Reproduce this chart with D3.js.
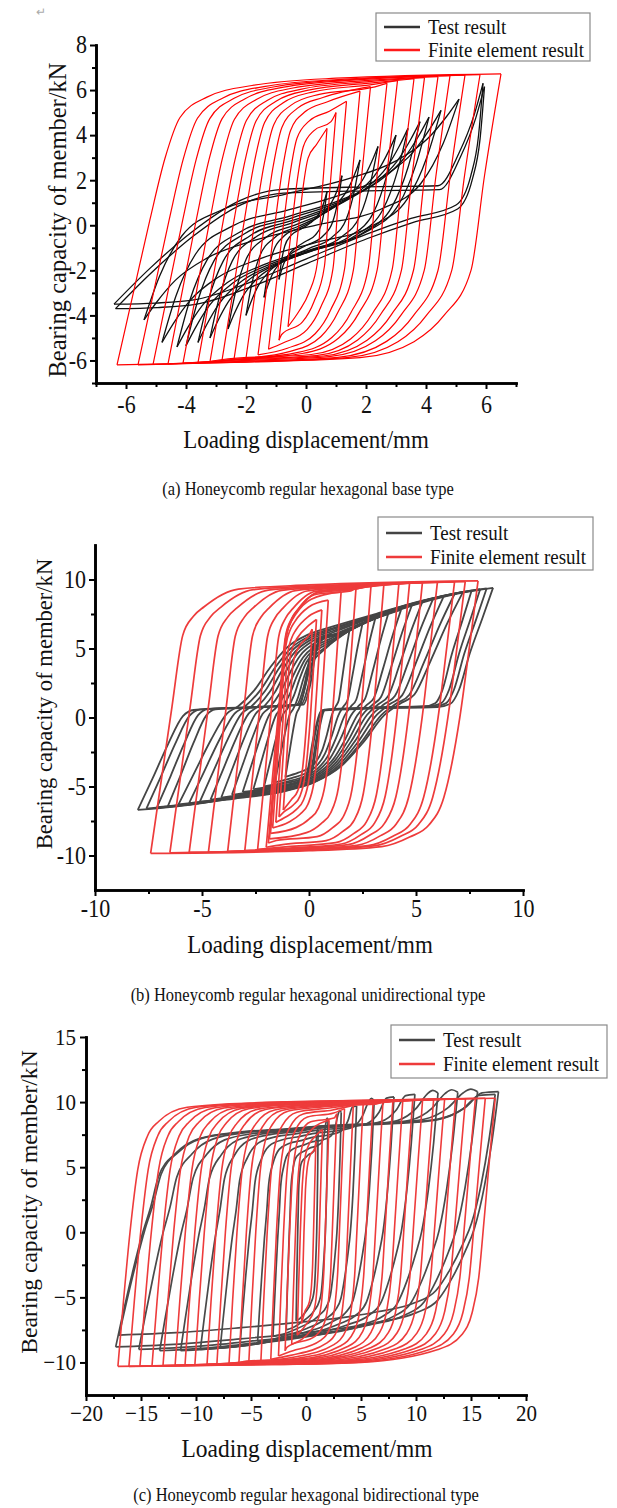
<!DOCTYPE html>
<html>
<head>
<meta charset="utf-8">
<script src="https://cdn.jsdelivr.net/npm/d3@7"></script>
<style>
  body { margin: 0; background: #fff; }
  svg, svg text { font-family: "Liberation Serif", "Times New Roman", Times, serif; }
  svg text { fill: #111; }
  .tall { transform-box: fill-box; transform-origin: center; transform: scaleY(1.1); }
</style>
</head>
<body>
<svg id="fig" width="617" height="1508"></svg>
<script>
const FONT = '"Liberation Serif", "Times New Roman", Times, serif';

// ---------------- shared text ----------------
const xTitle = "Loading displacement/mm";
const yTitle = "Bearing capacity of member/kN";
const legendLabels = ["Test result", "Finite element result"];
const captions = [
  "(a) Honeycomb regular hexagonal base type",
  "(b) Honeycomb regular hexagonal unidirectional type",
  "(c) Honeycomb regular hexagonal bidirectional type"
];

// Loops are stored as [negative peak displacement, negative peak force,
//                      positive peak displacement, positive peak force].
// Branch shapes list points as [distance from the starting peak, share of the loop height].

// ---------------- (a) base type ----------------
const xTicksA = [-6, -4, -2, 0, 2, 4, 6];
const xMinorA = [-7, -5, -3, -1, 1, 3, 5, 7];
const yTicksA = [-6, -4, -2, 0, 2, 4, 6, 8];
const yMinorA = [-7, -5, -3, -1, 1, 3, 5, 7];

const feLoopsA = [
  [-6.3, -6.2, 6.5, 6.72], [-5.6, -6.2, 5.8, 6.68], [-5.1, -6.18, 5.3, 6.66],
  [-4.6, -6.15, 4.8, 6.64], [-4.1, -6.12, 4.4, 6.6], [-3.6, -6.1, 3.95, 6.55],
  [-3.2, -6.05, 3.6, 6.5], [-2.8, -6.0, 3.05, 6.42], [-2.4, -5.95, 2.7, 6.3],
  [-2.0, -5.9, 2.15, 6.15], [-1.6, -5.75, 1.8, 5.95], [-1.25, -5.5, 1.35, 5.5],
  [-0.9, -5.1, 1.0, 5.0], [-0.6, -4.5, 0.7, 4.3]
];
const feRiseA = [[0.55, 0.25], [1.1, 0.5], [1.6, 0.71], [2.1, 0.85], [3.0, 0.92], [4.5, 0.96], [7.3, 0.985]];
const feFallA = [[0.55, 0.35], [1.0, 0.675], [1.9, 0.83], [2.9, 0.92], [4.7, 0.975], [8.5, 0.99]];

const testOuterA = [[-6.4, -3.5, 5.9, 6.3], [-6.35, -3.7, 5.95, 6.15]];
const testOuterRiseA = [[.098, .163], [.211, .327], [.341, .469], [.455, .520], [.683, .531], [.878, .536], [.935, .684], [.976, .857]];
const testOuterFallA = [[.012, .235], [.033, .418], [.073, .551], [.195, .612], [.317, .684], [.48, .796], [.642, .908], [.78, .98], [.886, .995]];
const testInnerA = [
  [-5.4, -4.2, 5.1, 5.6], [-4.8, -5.2, 4.5, 5.1], [-4.3, -5.4, 4.1, 4.8], [-4.0, -5.35, 3.8, 4.6],
  [-3.6, -5.2, 3.4, 4.3], [-3.2, -5.0, 3.0, 4.0], [-2.6, -4.6, 2.4, 3.5], [-2.0, -4.0, 1.8, 2.9],
  [-1.4, -3.2, 1.2, 2.2], [-0.9, -2.4, 0.7, 1.5]
];
const testInnerShapeA = [[.05, .2], [.12, .38], [.25, .5], [.45, .57], [.65, .64], [.8, .72], [.9, .82], [.96, .92]];

// ---------------- (b) unidirectional type ----------------
const xTicksB = [-10, -5, 0, 5, 10];
const xMinorB = [-7.5, -2.5, 2.5, 7.5];
const yTicksB = [-10, -5, 0, 5, 10];
const yMinorB = [-7.5, -2.5, 2.5, 7.5];

const feLoopsB = [
  [-7.4, -9.85, 7.9, 9.9], [-6.5, -9.8, 7.3, 9.85], [-5.6, -9.78, 6.8, 9.82],
  [-4.7, -9.75, 6.0, 9.8], [-3.8, -9.7, 5.3, 9.78], [-3.0, -9.65, 4.7, 9.75],
  [-2.4, -9.55, 4.2, 9.72], [-2.0, -9.4, 3.5, 9.68], [-1.9, -9.1, 2.9, 9.6],
  [-1.85, -8.8, 2.2, 9.45], [-1.8, -8.4, 1.5, 9.1], [-1.7, -8.0, 0.9, 8.5],
  [-1.55, -7.6, 0.6, 7.8], [-1.4, -7.2, 0.35, 7.1], [-1.2, -6.7, 0.15, 6.4]
];
const feRiseB = [[0.5, 0.27], [1.0, 0.54], [1.5, 0.80], [2.0, 0.87], [2.5, 0.905], [4.1, 0.97], [7.4, 0.985]];
const feFallB = [[0.4, 0.24], [0.85, 0.50], [1.6, 0.795], [2.3, 0.896], [3.2, 0.94], [4.5, 0.975], [7.9, 0.99]];

const testOuterB = [[-8.0, -6.7, 8.6, 9.4], [-7.6, -6.6, 8.3, 9.35], [-7.1, -6.5, 8.0, 9.3], [-6.6, -6.45, 7.6, 9.2]];
const testOuterRiseB = [[.042, .143], [.084, .292], [.127, .422], [.157, .450], [.301, .460], [.446, .472], [.470, .571], [.488, .714], [.512, .776], [.566, .795], [.639, .845], [.735, .901], [.904, .975]];
const testOuterFallB = [[.030, .137], [.066, .298], [.096, .460], [.120, .522], [.157, .537], [.337, .543], [.482, .553], [.506, .677], [.524, .832], [.548, .876], [.669, .919], [.819, .969]];
const testInnerB = [
  [-6.1, -6.3, 7.2, 9.1], [-5.6, -6.2, 6.8, 8.95], [-5.1, -6.1, 6.3, 8.8], [-4.6, -5.95, 5.8, 8.6],
  [-4.1, -5.8, 5.3, 8.4], [-3.6, -5.6, 4.8, 8.1], [-3.1, -5.4, 4.3, 7.8], [-2.6, -5.2, 3.7, 7.5],
  [-2.1, -5.0, 3.1, 7.2], [-1.6, -4.7, 2.5, 6.8], [-1.1, -4.3, 1.9, 6.4]
];
const testInnerRiseB = [[.057, .152], [.114, .303], [.171, .428], [.210, .462], [.267, .538], [.324, .648], [.381, .738], [.457, .8], [.552, .841], [.695, .897], [.857, .959]];
const testInnerFallB = [[.057, .152], [.114, .324], [.171, .483], [.219, .524], [.276, .579], [.352, .710], [.429, .821], [.524, .897], [.629, .938], [.8, .972]];

// ---------------- (c) bidirectional type ----------------
const xTicksC = [-20, -15, -10, -5, 0, 5, 10, 15, 20];
const xMinorC = [-17.5, -12.5, -7.5, -2.5, 2.5, 7.5, 12.5, 17.5];
const yTicksC = [-10, -5, 0, 5, 10, 15];
const yMinorC = [-7.5, -2.5, 2.5, 7.5, 12.5];

const feLoopsC = [
  [-17.1, -10.3, 17.2, 10.3], [-16.1, -10.3, 16.3, 10.3], [-15.1, -10.28, 15.4, 10.28],
  [-14.0, -10.26, 14.5, 10.26], [-13.0, -10.24, 13.6, 10.24], [-11.9, -10.22, 12.6, 10.22],
  [-11.0, -10.2, 11.6, 10.2], [-10.1, -10.18, 10.6, 10.18], [-9.0, -10.15, 9.7, 10.15],
  [-8.1, -10.12, 8.8, 10.12], [-7.0, -10.08, 7.9, 10.08], [-6.1, -10.04, 7.0, 10.04],
  [-5.2, -10.0, 6.1, 10.0], [-4.1, -9.9, 5.2, 9.9], [-3.2, -9.75, 4.3, 9.75],
  [-2.5, -9.5, 3.5, 9.5], [-1.9, -9.1, 2.8, 9.1], [-1.3, -8.6, 2.1, 8.6],
  [-0.8, -7.9, 1.5, 7.9], [-0.4, -7.0, 0.9, 7.0]
];
const feRiseC = [[0.5, 0.24], [1.1, 0.5], [1.8, 0.733], [2.7, 0.86], [3.7, 0.913], [6.3, 0.966], [12, 0.982], [20, 0.99]];
const feFallC = [[0.5, 0.22], [1.0, 0.45], [1.5, 0.67], [2.1, 0.8], [3.0, 0.88], [5.2, 0.937], [12.2, 0.985], [20, 0.993]];

const testLoopsC = [
  [-17.3, -8.8, 17.5, 10.8], [-17.0, -7.9, 17.2, 10.6], [-15.2, -9.0, 15.6, 10.8],
  [-13.3, -9.1, 13.8, 10.75], [-11.4, -9.1, 12.0, 10.7], [-9.6, -9.0, 9.9, 10.6],
  [-7.8, -8.9, 8.0, 10.4], [-6.0, -8.7, 6.2, 10.1], [-4.4, -8.4, 4.6, 9.7],
  [-3.0, -8.0, 3.2, 9.2], [-1.8, -7.5, 2.0, 8.6], [-0.9, -6.8, 1.1, 7.9]
];
const testRiseC = [[.017, .117], [.043, .286], [.069, .439], [.092, .551], [.112, .668], [.158, .760], [.218, .816], [.325, .842], [.425, .852], [.555, .867], [.727, .878], [.842, .893], [.914, .939], [.957, .995], [.980, 1.010]];
const testFallC = [[.017, .194], [.037, .372], [.063, .536], [.086, .622], [.121, .730], [.158, .816], [.216, .867], [.313, .903], [.388, .923], [.503, .944], [.675, .969], [.848, .990]];

// ---------------- drawing ----------------
const svg = d3.select("#fig").style("font-family", FONT);

// Build the loading (left to right) and unloading branches of one loop.
// ref/pow control how the branch shape shrinks for narrower loops.
function branches(peak, rise, fall, ref, pow) {
  const [xn, yn, xp, yp] = peak;
  const w = xp - xn, h = yp - yn, s = Math.pow(w / ref, pow);
  const up = [[xn, yn]];
  rise.forEach(([d, f]) => { const xv = xn + d * s; if (xv < xp - 0.02 * w) up.push([xv, yn + f * h]); });
  up.push([xp, yp]);
  const dn = [[xp, yp]];
  fall.forEach(([d, f]) => { const xv = xp - d * s; if (xv > xn + 0.02 * w) dn.push([xv, yp - f * h]); });
  dn.push([xn, yn]);
  return [up, dn.reverse()];
}

function serif(sel) { return sel.style("font-family", FONT); }

function styleAxis(sel, fs) {
  sel.attr("font-family", null).attr("font-size", null);
  sel.select(".domain").attr("stroke", "#000").attr("stroke-width", 2.6).attr("stroke-linecap", "square");
  sel.selectAll(".tick line").attr("stroke", "#000").attr("stroke-width", 2);
  serif(sel.selectAll(".tick text").attr("font-size", fs).attr("fill", "#111").attr("class", "tall"));
}

function drawPanel(p) {
  const g = svg.append("g");
  const x = d3.scaleLinear().domain(p.xDomain).range([p.left, p.right]);
  const y = d3.scaleLinear().domain(p.yDomain).range([p.bottom, p.top]);
  const path = d3.line().x(d => x(d[0])).y(d => y(d[1])).curve(d3.curveMonotoneX);

  p.series.forEach(s => {
    const sg = g.append("g").attr("fill", "none").attr("stroke", s.color)
      .attr("stroke-width", s.width).attr("stroke-linejoin", "round");
    s.sets.forEach(set => set.loops.forEach(pk => {
      branches(pk, set.rise, set.fall, set.ref, set.pow)
        .forEach(b => sg.append("path").attr("d", path(b)));
    }));
  });

  const fmt = p.unicodeMinus ? d3.format("") : (d => String(d));

  const xm = g.append("g").attr("transform", `translate(0,${p.bottom})`)
    .call(d3.axisBottom(x).tickValues(p.xMinor).tickSize(4).tickSizeOuter(0).tickFormat(""));
  styleAxis(xm, p.tickFont);
  const xa = g.append("g").attr("transform", `translate(0,${p.bottom})`)
    .call(d3.axisBottom(x).tickValues(p.xTicks).tickSize(6).tickPadding(p.xPad).tickSizeOuter(0).tickFormat(fmt));
  styleAxis(xa, p.tickFont);

  const ym = g.append("g").attr("transform", `translate(${p.left},0)`)
    .call(d3.axisLeft(y).tickValues(p.yMinor).tickSize(4).tickSizeOuter(0).tickFormat(""));
  styleAxis(ym, p.tickFont);
  const ya = g.append("g").attr("transform", `translate(${p.left},0)`)
    .call(d3.axisLeft(y).tickValues(p.yTicks).tickSize(6).tickPadding(p.yPad).tickSizeOuter(0).tickFormat(fmt));
  styleAxis(ya, p.tickFont);

  serif(g.append("text").attr("class", "tall")
    .attr("x", p.xTitlePos[0]).attr("y", p.xTitlePos[1])
    .attr("text-anchor", "middle").attr("font-size", p.xTitleFont).text(xTitle));

  serif(g.append("g").attr("transform", `translate(${p.yTitlePos[0]},${p.yTitlePos[1]}) rotate(-90)`)
    .append("text").attr("text-anchor", "middle").attr("dy", "0.35em")
    .attr("font-size", p.yTitleFont).text(yTitle));

  serif(g.append("text").attr("class", "tall")
    .attr("x", p.captionPos[0]).attr("y", p.captionPos[1])
    .attr("text-anchor", "middle").attr("font-size", 16.5).text(p.caption));

  const L = p.legend;
  const lg = g.append("g");
  lg.append("rect").attr("x", L.x).attr("y", L.y).attr("width", L.w).attr("height", L.h)
    .attr("fill", "#fff").attr("stroke", "#8a8a8a").attr("stroke-width", 1.2);
  legendLabels.forEach((t, i) => {
    const yy = L.rows[i];
    lg.append("line").attr("x1", L.x + 8).attr("x2", L.x + 44).attr("y1", yy).attr("y2", yy)
      .attr("stroke", p.legendColors[i]).attr("stroke-width", 2.6);
    serif(lg.append("text").attr("class", "tall").attr("x", L.x + 52).attr("y", yy).attr("dy", "0.33em")
      .attr("font-size", 19).text(t));
  });
}

// small return mark above the first figure
svg.append("text").attr("x", 36).attr("y", 16).attr("font-size", 12).style("fill", "#aaa").text("\u21B5");

drawPanel({
  xDomain: [-7, 7], yDomain: [-7, 8], left: 96, right: 516, top: 45, bottom: 383,
  xTicks: xTicksA, xMinor: xMinorA, yTicks: yTicksA, yMinor: yMinorA,
  tickFont: 22, xPad: 8, yPad: 3, unicodeMinus: false,
  xTitlePos: [306, 447], xTitleFont: 23, yTitlePos: [57, 220], yTitleFont: 24.5,
  caption: captions[0], captionPos: [308, 494],
  legend: { x: 376, y: 13, w: 214, h: 48, rows: [27, 50] },
  legendColors: ["#333", "#ff1a1a"],
  series: [
    { color: "#111", width: 1.3, sets: [
      { loops: testOuterA, rise: testOuterRiseA, fall: testOuterFallA, ref: 1, pow: 1 },
      { loops: testInnerA, rise: testInnerShapeA, fall: testInnerShapeA, ref: 1, pow: 1 } ] },
    { color: "#ff0000", width: 1.2, sets: [
      { loops: feLoopsA, rise: feRiseA, fall: feFallA, ref: 12.8, pow: 0.5 } ] }
  ]
});

drawPanel({
  xDomain: [-10, 10], yDomain: [-12.5, 12.5], left: 95, right: 523, top: 545, bottom: 890,
  xTicks: xTicksB, xMinor: xMinorB, yTicks: yTicksB, yMinor: yMinorB,
  tickFont: 22, xPad: 5, yPad: 3, unicodeMinus: false,
  xTitlePos: [310, 952], xTitleFont: 23, yTitlePos: [44, 704], yTitleFont: 22.6,
  caption: captions[1], captionPos: [308, 1000],
  legend: { x: 378, y: 517, w: 215, h: 53, rows: [533, 557] },
  legendColors: ["#444", "#ee3b3b"],
  series: [
    { color: "#454545", width: 1.8, sets: [
      { loops: testOuterB, rise: testOuterRiseB, fall: testOuterFallB, ref: 1, pow: 1 },
      { loops: testInnerB, rise: testInnerRiseB, fall: testInnerFallB, ref: 1, pow: 1 } ] },
    { color: "#ee3b3b", width: 1.7, sets: [
      { loops: feLoopsB, rise: feRiseB, fall: feFallB, ref: 15.3, pow: 0.5 } ] }
  ]
});

drawPanel({
  xDomain: [-20, 20], yDomain: [-12.5, 15], left: 86, right: 526, top: 1037, bottom: 1395,
  xTicks: xTicksC, xMinor: xMinorC, yTicks: yTicksC, yMinor: yMinorC,
  tickFont: 21, xPad: 4, yPad: 4, unicodeMinus: true,
  xTitlePos: [307, 1456], xTitleFont: 23.5, yTitlePos: [29, 1202], yTitleFont: 23.6,
  caption: captions[2], captionPos: [306, 1500],
  legend: { x: 391, y: 1025, w: 216, h: 53, rows: [1040, 1064] },
  legendColors: ["#444", "#ee3b3b"],
  series: [
    { color: "#4a4a4a", width: 1.7, sets: [
      { loops: testLoopsC, rise: testRiseC, fall: testFallC, ref: 1, pow: 1 } ] },
    { color: "#ee3b3b", width: 1.6, sets: [
      { loops: feLoopsC, rise: feRiseC, fall: feFallC, ref: 34.3, pow: 0.5 } ] }
  ]
});
</script>
</body>
</html>
